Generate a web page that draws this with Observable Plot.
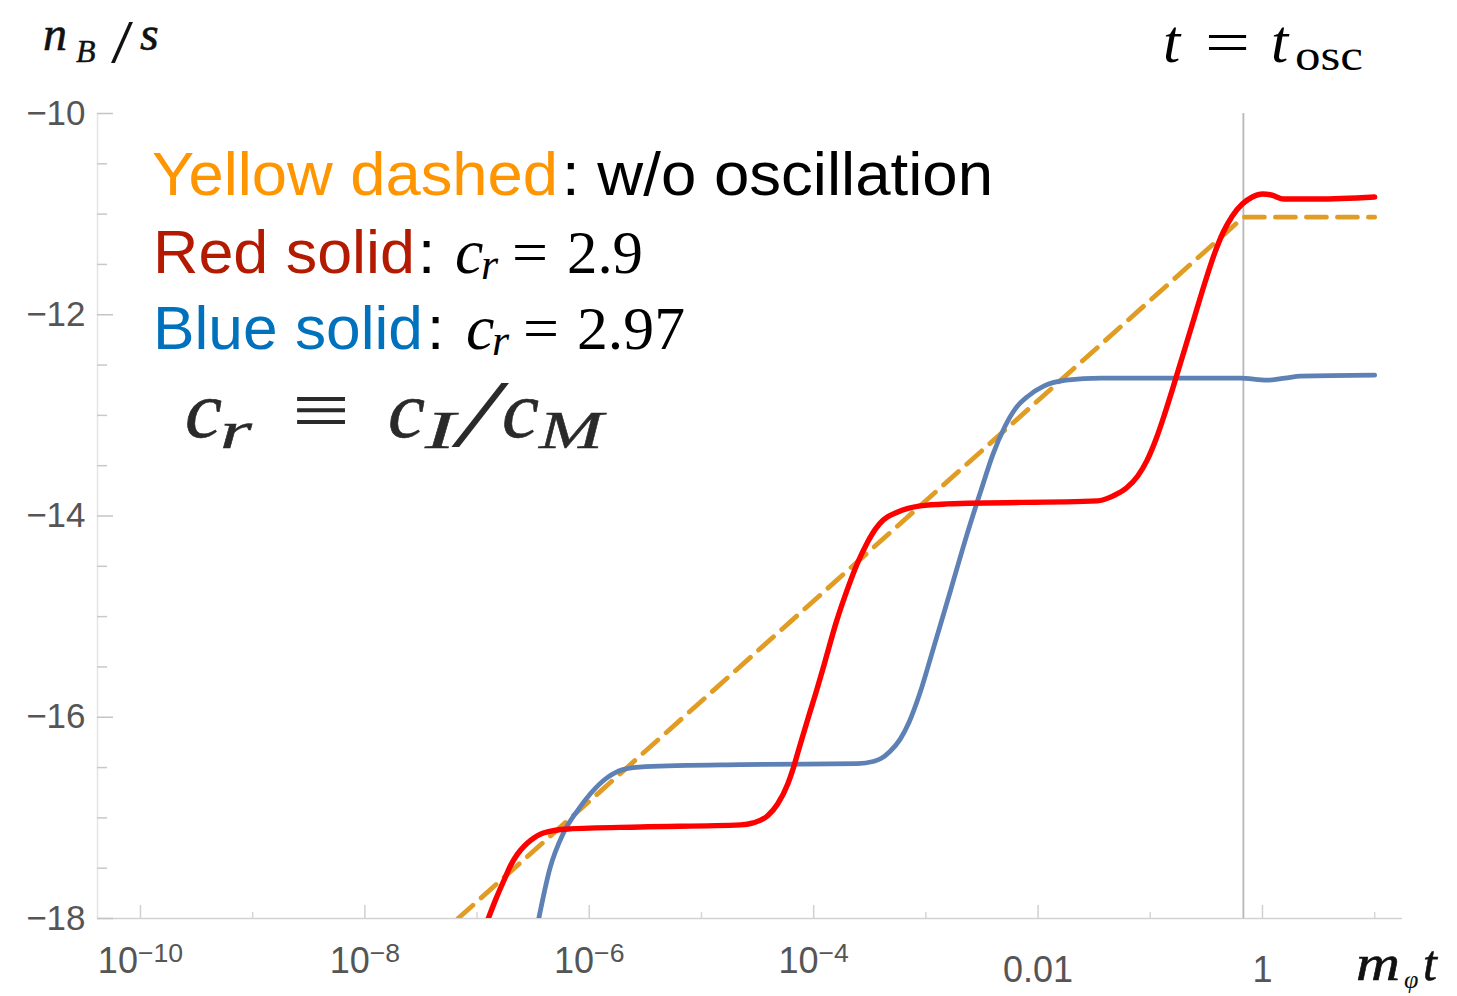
<!DOCTYPE html>
<html><head><meta charset="utf-8">
<script src="https://cdn.jsdelivr.net/npm/d3@7"></script>
<script src="https://cdn.jsdelivr.net/npm/@observablehq/plot@0.6"></script>
<style>body{margin:0;background:#fff}#chart{position:relative;width:1457px;height:996px}</style>
</head><body><div id="chart"></div>
<script>
// ---- data (log10 of m_phi t, and log10 of n_B/s) ----
const dashedLogT = [-7.17, -0.17, 1.0];
const dashedNB   = [-18.0, -11.03, -11.03];

const redLogT = [-6.90, -6.83, -6.76, -6.70, -6.64, -6.58, -6.52, -6.41, -6.19, -5.54, -4.65, -4.54, -4.41, -4.32, -4.23, -4.18, -4.12, -4.05, -3.97, -3.90, -3.80, -3.69, -3.61, -3.52, -3.45, -3.38, -3.25, -3.05, -2.81, -1.47, -1.33, -1.21, -1.11, -1.03, -0.95, -0.87, -0.78, -0.69, -0.60, -0.51, -0.43, -0.35, -0.27, -0.18, -0.09, 0.00, 0.08, 0.19, 0.49, 1.00];
const redNB   = [-18.0, -17.80, -17.62, -17.47, -17.36, -17.28, -17.22, -17.15, -17.11, -17.09, -17.07, -17.05, -16.98, -16.86, -16.66, -16.50, -16.27, -16.01, -15.72, -15.45, -15.06, -14.70, -14.47, -14.26, -14.13, -14.04, -13.96, -13.90, -13.88, -13.85, -13.80, -13.72, -13.60, -13.45, -13.24, -12.98, -12.66, -12.33, -12.00, -11.67, -11.40, -11.18, -11.02, -10.90, -10.83, -10.80, -10.81, -10.85, -10.85, -10.83];

const blueLogT = [-6.45, -6.35, -6.23, -6.10, -5.99, -5.84, -5.70, -5.50, -4.65, -3.61, -3.47, -3.40, -3.32, -3.23, -3.15, -3.05, -2.95, -2.78, -2.63, -2.51, -2.40, -2.30, -2.20, -2.09, -1.95, -1.75, -1.44, -0.20, 0.04, 0.20, 0.34, 1.00];
const blueNB   = [-18.0, -17.50, -17.15, -16.92, -16.76, -16.60, -16.52, -16.49, -16.47, -16.46, -16.44, -16.41, -16.34, -16.22, -16.05, -15.75, -15.38, -14.74, -14.17, -13.75, -13.38, -13.12, -12.93, -12.81, -12.71, -12.65, -12.63, -12.63, -12.65, -12.63, -12.61, -12.60];

const tOscLog = -0.17;

const yMajorTicks = [-18, -16, -14, -12, -10];
const yTickLabels = ["\u221218", "\u221216", "\u221214", "\u221212", "\u221210"];
const yMinorTicks = [-17.5, -17, -16.5, -15.5, -15, -14.5, -13.5, -13, -12.5, -11.5, -11, -10.5];
const xTickExps   = [-10, -8, -6, -4, -2, 0];
const xTickLabels = ["10^\u221210", "10^\u22128", "10^\u22126", "10^\u22124", "0.01", "1"];
const xMinorExps  = [-9, -7, -5, -3, -1, 1];

// ---- build tables ----
const toRows = (lt, v) => lt.map((l, i) => ({t: 10 ** l, v: v[i]}));
const dashedRows = toRows(dashedLogT, dashedNB);
const redRows = toRows(redLogT, redNB);
const blueRows = toRows(blueLogT, blueNB);
const xLabelMap = new Map(xTickExps.map((e, i) => [e, xTickLabels[i]]));
const yLabelMap = new Map(yMajorTicks.map((e, i) => [e, yTickLabels[i]]));

const W = 1457, H = 996, mL = 97, mR = 55, mT = 113, mB = 78;
const fw = W - mL - mR, fh = H - mT - mB;
const xMin = 10 ** -10.383, xMax = 10 ** 1.248;

const plot = Plot.plot({
  width: W, height: H,
  marginLeft: mL, marginRight: mR, marginTop: mT, marginBottom: mB,
  style: {background: "#fff", fontFamily: "'Liberation Sans', Arial, sans-serif", overflow: "visible"},
  x: {type: "log", domain: [xMin, xMax], label: null},
  y: {domain: [-18, -10], label: null},
  marks: [
    Plot.ruleY([-18], {stroke: "#d2d2d2", strokeWidth: 1.5}),
    Plot.ruleX([xMin], {stroke: "#e4e4e4", strokeWidth: 1.5}),
    Plot.ruleY(yMajorTicks, {stroke: "#c4c4c4", strokeWidth: 1.5, insetRight: fw - 16}),
    Plot.ruleY(yMinorTicks, {stroke: "#c8c8c8", strokeWidth: 1.5, insetRight: fw - 10}),
    Plot.ruleX(xTickExps.map(e => 10 ** e), {stroke: "#d0d0d0", strokeWidth: 1.5, insetTop: fh - 13}),
    Plot.ruleX(xMinorExps.map(e => 10 ** e), {stroke: "#d6d6d6", strokeWidth: 1.5, insetTop: fh - 6}),
    Plot.ruleX([10 ** tOscLog], {stroke: "#b8b8b8", strokeWidth: 1.8}),
    Plot.line(dashedRows, {x: "t", y: "v", stroke: "#E19C24", strokeWidth: 4.8, strokeDasharray: "20,11", clip: true}),
    Plot.line(blueRows, {x: "t", y: "v", stroke: "#5E81B5", strokeWidth: 4.8, curve: "monotone-x", clip: true}),
    Plot.line(redRows, {x: "t", y: "v", stroke: "#FF0000", strokeWidth: 5.4, curve: "monotone-x", clip: true}),
    Plot.axisY(yMajorTicks, {tickSize: 0, tickPadding: 12, fontSize: 35, color: "#555", label: null, tickFormat: d => yLabelMap.get(d)}),
    Plot.axisX(xTickExps.map(e => 10 ** e), {tickSize: 0, tickPadding: 38, fontSize: 36, color: "#555", label: null,
      tickFormat: d => xLabelMap.get(Math.round(Math.log10(d)))})
  ]
});
document.getElementById("chart").appendChild(plot);

// ---- superscripts in the x tick labels ----
const svg = d3.select(plot);
svg.selectAll('g[aria-label="x-axis tick label"] text').each(function() {
  const s = this.textContent;
  const m = s.match(/^10\^(.+)$/);
  if (!m) return;
  const el = d3.select(this);
  el.text(null);
  el.append("tspan").text("10");
  el.append("tspan").attr("dy", "-0.42em").attr("font-size", "0.74em").text(m[1]);
  el.attr("transform", (el.attr("transform") || "") + " translate(0,-9)");
});

// ---- annotations ----
const SANS = "'Liberation Sans', Arial, sans-serif";
const SERIF = "'Liberation Serif', 'Times New Roman', serif";
const ann = svg.append("g").attr("aria-label", "annotations").attr("text-anchor", "start");
function put(txt, x, y, o = {}) {
  const t = ann.append("text").attr("x", x).attr("y", y)
    .attr("text-anchor", "start")
    .attr("font-family", o.family || SERIF)
    .attr("font-size", o.size || 60)
    .attr("fill", o.fill || "#000")
    .text(txt);
  if (o.italic) t.attr("font-style", "italic");
  if (o.len) t.attr("textLength", o.len).attr("lengthAdjust", "spacingAndGlyphs");
  if (o.stroke) t.attr("stroke", o.fill || "#000").attr("stroke-width", o.stroke);
  return t;
}
// axis labels
put("n", 43, 50, {size: 48, italic: true, fill: "#111", stroke: 0.6});
put("B", 76, 62, {size: 32, italic: true, fill: "#111", stroke: 0.4});
put("/", 111, 62, {size: 62, fill: "#111", len: 22});
put("s", 140, 50, {size: 48, italic: true, fill: "#111", stroke: 0.6});

put("t", 1163, 62, {size: 62, italic: true});
put("=", 1205, 62, {size: 60, len: 45});
put("t", 1271, 62, {size: 62, italic: true});
put("osc", 1295, 70, {size: 44, len: 68});

put("m", 1356, 980, {size: 50, italic: true, len: 44, fill: "#111", stroke: 0.6});
put("\u03c6", 1404, 988, {size: 26, italic: true, fill: "#111"});
put("t", 1423, 980, {size: 50, italic: true, fill: "#111", stroke: 0.6});

// legend text
put("Yellow dashed", 152, 195, {family: SANS, size: 62, fill: "#FF9500", len: 406});
put(": w/o oscillation", 562, 195, {family: SANS, size: 62, len: 431});

put("Red solid", 153, 273, {family: SANS, size: 62, fill: "#B31A00", len: 262});
put(":", 418, 273, {family: SANS, size: 62});
put("c", 455, 273, {size: 64, italic: true});
put("r", 481, 279, {size: 44, italic: true});
put("=", 512, 273, {size: 62, len: 36});
put("2.9", 567, 273, {size: 62, len: 76});

put("Blue solid", 153, 349, {family: SANS, size: 62, fill: "#0071BC", len: 270});
put(":", 427, 349, {family: SANS, size: 62});
put("c", 466, 349, {size: 64, italic: true});
put("r", 492, 355, {size: 44, italic: true});
put("=", 523, 349, {size: 62, len: 36});
put("2.97", 577, 349, {size: 62, len: 108});

// definition
put("c", 185, 437, {size: 80, italic: true, fill: "#2a2a2a", stroke: 0.6, len: 37});
put("r", 220, 448, {size: 52, italic: true, fill: "#2a2a2a", stroke: 0.4, len: 32});
put("\u2261", 292, 437, {size: 80, fill: "#2a2a2a", len: 58});
put("c", 388, 437, {size: 80, italic: true, fill: "#2a2a2a", stroke: 0.6, len: 37});
put("I", 425, 448, {size: 52, italic: true, fill: "#2a2a2a", stroke: 0.4, len: 30});
put("/", 458, 446, {size: 96, italic: true, fill: "#2a2a2a", len: 40});
put("c", 502, 437, {size: 80, italic: true, fill: "#2a2a2a", stroke: 0.6, len: 37});
put("M", 539, 448, {size: 52, italic: true, fill: "#2a2a2a", stroke: 0.4, len: 64});
</script>
</body></html>
